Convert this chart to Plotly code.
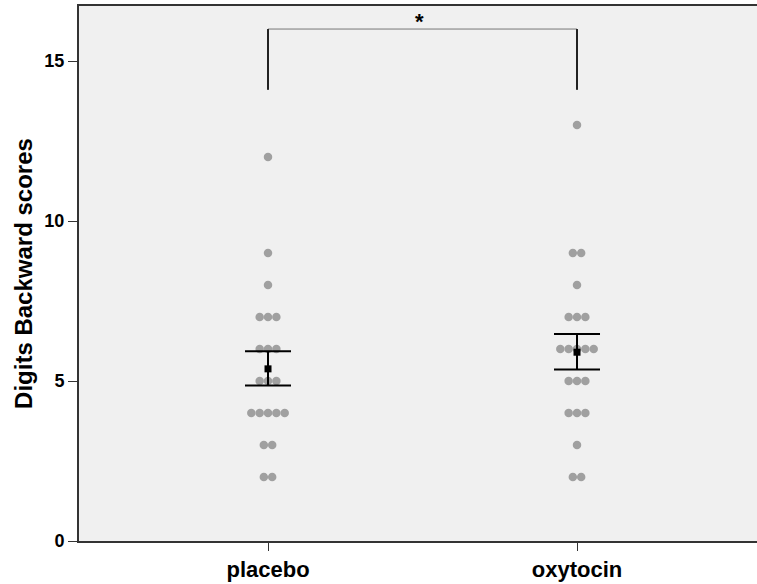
import plotly.graph_objects as go
from collections import Counter

# ---- data ----
groups = ["placebo", "oxytocin"]
placebo_scores = [12, 9, 8, 7, 7, 7, 6, 6, 6, 5, 5, 5, 4, 4, 4, 4, 4, 3, 3, 2, 2]
oxytocin_scores = [13, 9, 9, 8, 7, 7, 7, 6, 6, 6, 6, 6, 5, 5, 5, 4, 4, 4, 3, 2, 2]
group_means = [5.38, 5.90]
err_upper_end = [5.93, 6.47]
err_lower_end = [4.86, 5.36]
y_ticks = [0, 5, 10, 15]
bracket_top = 16.0
bracket_bottom = 14.1
sig_label = "*"

FONT = "Liberation Sans, Arial, sans-serif"
DOT_STEP = 0.027  # horizontal dot spacing in category units


def swarm(scores, center):
    xs, ys = [], []
    counts = Counter(scores)
    for val, n in counts.items():
        for i in range(n):
            xs.append(center + (i - (n - 1) / 2) * DOT_STEP)
            ys.append(val)
    return xs, ys


fig = go.Figure()

for gi, scores in enumerate([placebo_scores, oxytocin_scores]):
    xs, ys = swarm(scores, gi)
    fig.add_trace(go.Scatter(
        x=xs, y=ys, mode="markers",
        marker=dict(size=8.5, color="#a0a0a0", line=dict(width=0)),
        showlegend=False, hoverinfo="skip"))

# means with error bars
fig.add_trace(go.Scatter(
    x=[0, 1], y=group_means, mode="markers",
    marker=dict(symbol="square", size=7, color="black"),
    error_y=dict(type="data", symmetric=False,
                 array=[u - m for u, m in zip(err_upper_end, group_means)],
                 arrayminus=[m - l for l, m in zip(err_lower_end, group_means)],
                 color="black", thickness=2, width=23),
    showlegend=False, hoverinfo="skip"))

# significance bracket
fig.add_trace(go.Scatter(x=[0, 1], y=[bracket_top, bracket_top], mode="lines",
                         line=dict(color="#777777", width=1),
                         showlegend=False, hoverinfo="skip"))
for gx in [0, 1]:
    fig.add_trace(go.Scatter(x=[gx, gx], y=[bracket_bottom, bracket_top], mode="lines",
                             line=dict(color="#222222", width=2),
                             showlegend=False, hoverinfo="skip"))
fig.add_annotation(x=0.49, y=bracket_top, text="<b>" + sig_label + "</b>", showarrow=False,
                   yanchor="bottom", yshift=-7, font=dict(family=FONT, size=22, color="black"))

fig.update_layout(
    width=765, height=584,
    margin=dict(l=79, r=0, t=6, b=43),
    paper_bgcolor="white", plot_bgcolor="#f0f0f0",
    font=dict(family=FONT, color="black"),
    xaxis=dict(range=[-0.6117, 1.6084], tickmode="array", tickvals=[0, 1],
               ticktext=["<b>" + g + "</b>" for g in groups],
               tickfont=dict(size=22, family=FONT),
               showgrid=False, zeroline=False, showline=True, mirror=True,
               linecolor="#333333", linewidth=2,
               ticks="outside", ticklen=8, tickwidth=1, tickcolor="#333333"),
    yaxis=dict(range=[0, 16.72], tickmode="array", tickvals=y_ticks,
               ticktext=["<b>%d</b>" % t for t in y_ticks],
               tickfont=dict(size=18, family=FONT),
               showgrid=False, zeroline=False, showline=True, mirror=False,
               linecolor="#333333", linewidth=2,
               ticks="outside", ticklen=9, tickwidth=1, tickcolor="#333333",
               title=dict(text="<b>Digits Backward scores</b>",
                          font=dict(size=24, family=FONT), standoff=5)),
)

fig.write_html("out.html", config={"displayModeBar": False},
               post_script="document.body.style.margin='0';document.body.style.overflow='hidden';")
